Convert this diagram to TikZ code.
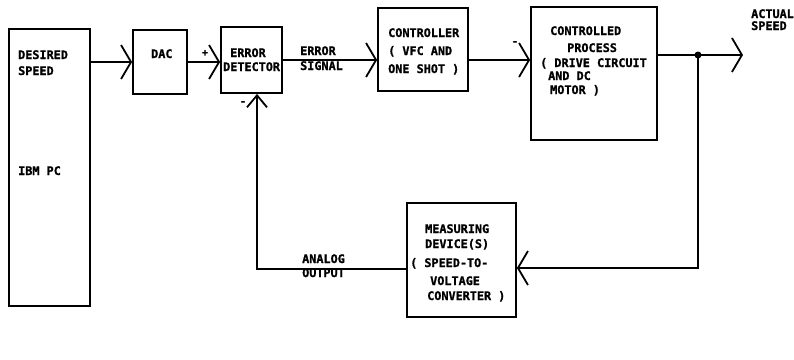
\documentclass[tikz,border=0pt]{standalone}
\usepackage{fontspec}
\newfontfamily\dotfont{DejaVu Sans Mono}[BoldFeatures={FakeBold=1.2}]
\usetikzlibrary{arrows.meta}
\tikzset{
  blk/.style={draw, line width=1.8pt, inner sep=0pt},
  txt/.style={anchor=base west, inner sep=0pt, font=\dotfont\bfseries\fontsize{11.8}{12}\selectfont},
  sgn/.style={anchor=center, inner sep=0pt, font=\dotfont\bfseries\fontsize{10}{10}\selectfont},
  conn/.style={line width=1.8pt, line join=miter},
  barb/.style={-{Straight Barb[length=10pt,width=34pt,line width=1.8pt]}},
  barbsmall/.style={-{Straight Barb[length=12pt,width=20pt,line width=1.8pt]}}
}
\begin{document}
\begin{tikzpicture}[x=1pt,y=-1pt]
\useasboundingbox (0,0) rectangle (794,359);
% blocks
\node[blk, minimum width=81pt, minimum height=277pt] (pc) at (49.5,167.5) {};
\node[blk, minimum width=54pt, minimum height=64pt] (dac) at (160,62) {};
\node[blk, minimum width=61pt, minimum height=66pt] (ed) at (251.5,60) {};
\node[blk, minimum width=90pt, minimum height=83pt] (ctl) at (423,49.5) {};
\node[blk, minimum width=126pt, minimum height=133pt] (cp) at (594,73.5) {};
\node[blk, minimum width=109pt, minimum height=114pt] (md) at (461.5,260) {};
% texts
\node[txt] (t1) at (18,59) {DESIRED};
\node[txt] (t2) at (18,75) {SPEED};
\node[txt] (t3) at (18,175) {IBM PC};
\node[txt] (t4) at (151,58) {DAC};
\node[txt] (t5) at (230,57) {ERROR};
\node[txt] (t6) at (223,71) {DETECTOR};
\node[txt] (t7) at (300,55) {ERROR};
\node[txt] (t8) at (300,70) {SIGNAL};
\node[txt] (t9) at (388,37) {CONTROLLER};
\node[txt] (t10) at (388,55) {( VFC AND};
\node[txt] (t11) at (388,73) {ONE SHOT )};
\node[txt] (t12) at (550,35) {CONTROLLED};
\node[txt] (t13) at (567,52) {PROCESS};
\node[txt] (t14) at (540,67) {( DRIVE CIRCUIT};
\node[txt] (t15) at (548,80) {AND DC};
\node[txt] (t16) at (550,94) {MOTOR )};
\node[txt] (t17) at (425,233) {MEASURING};
\node[txt] (t18) at (425,248) {DEVICE(S)};
\node[txt] (t19) at (410,267) {( SPEED-TO-};
\node[txt] (t20) at (430,285) {VOLTAGE};
\node[txt] (t21) at (427,300) {CONVERTER )};
\node[txt] (t22) at (302,263) {ANALOG};
\node[txt] (t23) at (302,277) {OUTPUT};
\node[txt] (t24) at (751,18) {ACTUAL};
\node[txt] (t25) at (751,30) {SPEED};
% signs
\node[sgn] (s1) at (205,53) {+};
\node[sgn] (s2) at (243,103) {-};
\node[sgn] (s3) at (515,43) {-};
% coordinates
\coordinate (j) at (698,55);
\coordinate (out) at (743,55);
\coordinate (fb) at (698,268);
\coordinate (c1) at (257,269);
% connectors
\draw[conn, barb] (dac.west -| pc.east) -- (dac.west);
\draw[conn, barb] (dac.east) -- (dac.east -| ed.west);
\draw[conn, barb] (ed.east) -- (ed.east -| ctl.west);
\draw[conn, barb] (ctl.east |- ed.east) -- (ed.east -| cp.west);
\draw[conn, barb] (j -| cp.east) -- (j) -- (out);
\draw[conn, barb] (j) -- (fb) -- (fb -| md.east);
\draw[conn, barbsmall] (c1 -| md.west) -- (c1) -- (c1 |- ed.south);
\fill (j) circle (3.5pt);
\end{tikzpicture}
\end{document}
